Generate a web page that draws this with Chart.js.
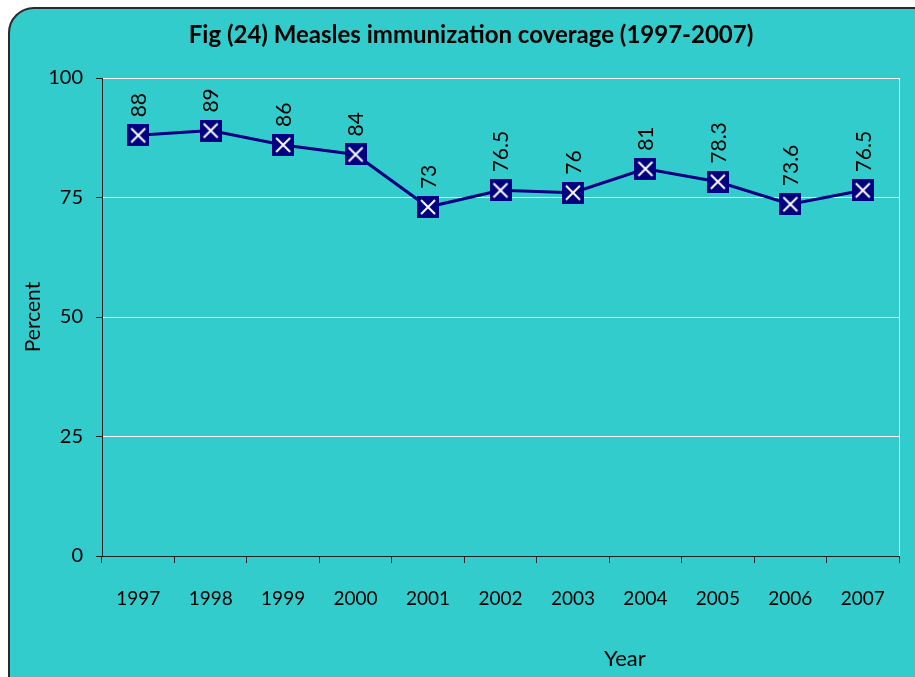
<!DOCTYPE html>
<html>
<head>
<meta charset="utf-8">
<script src="https://cdn.jsdelivr.net/npm/chart.js@4/dist/chart.umd.min.js"></script>
<style>
  html, body { margin: 0; padding: 0; overflow: hidden; background: #ffffff; }
  #moldura {
    position: absolute; left: 8px; top: 7px; width: 960px; height: 720px;
    background: #33cccc; border: 2px solid #2a2a2a; border-radius: 26px;
  }
  #grafico { position: absolute; left: 0; top: 0; }
</style>
</head>
<body>
<div id="moldura"></div>
<canvas id="grafico" width="915" height="677"></canvas>
<script>
const anos = ["1997", "1998", "1999", "2000", "2001", "2002", "2003", "2004", "2005", "2006", "2007"];
const cobertura = [88, 89, 86, 84, 73, 76.5, 76, 81, 78.3, 73.6, 76.5];
const rotulos = ["88", "89", "86", "84", "73", "76.5", "76", "81", "78.3", "73.6", "76.5"];
const marcasY = [0, 25, 50, 75, 100];

const fonte = "Lato";

function criarMarcador() {
    const c = document.createElement("canvas");
    c.width = 22;
    c.height = 22;
    const g = c.getContext("2d");
    g.fillStyle = "#000080";
    g.fillRect(0, 0, 22, 22);
    g.strokeStyle = "#ffffff";
    g.lineWidth = 2;
    g.beginPath();
    g.moveTo(4, 4); g.lineTo(18, 18);
    g.moveTo(18, 4); g.lineTo(4, 18);
    g.stroke();
    return c;
}

const rotulosVerticais = {
    id: "rotulosVerticais",
    afterDatasetsDraw(chart) {
        const ctx = chart.ctx;
        const meta = chart.getDatasetMeta(0);
        ctx.save();
        ctx.fillStyle = "#000000";
        ctx.font = "21px " + fonte;
        ctx.textAlign = "left";
        ctx.textBaseline = "middle";
        meta.data.forEach((ponto, i) => {
            ctx.save();
            ctx.translate(ponto.x + 1, ponto.y - 18);
            ctx.rotate(-Math.PI / 2);
            ctx.fillText(rotulos[i], 0, 0);
            ctx.restore();
        });
        ctx.restore();
    }
};

const bordaDireita = {
    id: "bordaDireita",
    beforeDatasetsDraw(chart) {
        const { ctx, chartArea } = chart;
        ctx.save();
        ctx.strokeStyle = "#ffffff";
        ctx.lineWidth = 1;
        ctx.beginPath();
        ctx.moveTo(chartArea.right + 0.5, chartArea.top);
        ctx.lineTo(chartArea.right + 0.5, chartArea.bottom);
        ctx.stroke();
        ctx.restore();
    }
};

const tituloAno = {
    id: "tituloAno",
    afterDraw(chart) {
        const { ctx, chartArea } = chart;
        ctx.save();
        ctx.fillStyle = "#000000";
        ctx.font = "22px " + fonte;
        ctx.textAlign = "center";
        ctx.textBaseline = "middle";
        ctx.fillText("Year", chartArea.left + (chartArea.right - chartArea.left) * 0.656, 659);
        ctx.restore();
    }
};

new Chart(document.querySelector("#grafico"), {
    type: "line",
    data: {
        labels: anos,
        datasets: [{
            data: cobertura,
            borderColor: "#000080",
            borderWidth: 3,
            pointStyle: criarMarcador(),
            pointRadius: 11,
            tension: 0
        }]
    },
    options: {
        responsive: false,
        animation: false,
        layout: { padding: { left: 43, right: 16, top: 0, bottom: 0 } },
        plugins: {
            legend: { display: false },
            tooltip: { enabled: false },
            title: {
                display: true,
                text: "Fig (24) Measles immunization coverage (1997-2007)",
                color: "#000000",
                font: { family: fonte, size: 24, weight: "bold", lineHeight: 1.2 },
                padding: { top: 20.6, bottom: 28.6 }
            }
        },
        scales: {
            x: {
                offset: true,
                grid: {
                    offset: true,
                    drawOnChartArea: false,
                    tickLength: 7,
                    color: "#222222"
                },
                border: { color: "#222222", width: 1 },
                ticks: { color: "#000000", font: { family: fonte, size: 19 }, padding: 24, maxRotation: 0 },
                afterFit(escala) { escala.height = 121; }
            },
            y: {
                min: 0,
                max: 100,
                afterBuildTicks(escala) { escala.ticks = marcasY.map(v => ({ value: v })); },
                grid: { color: "#ffffff", tickColor: "#222222", tickLength: 6 },
                border: { color: "#222222", width: 1 },
                ticks: { color: "#000000", font: { family: fonte, size: 20 }, padding: 13 },
                title: {
                    display: true,
                    text: "Percent",
                    color: "#000000",
                    font: { family: fonte, size: 21, lineHeight: 1.2 },
                    padding: { top: -22.6, bottom: 0 }
                },
                afterFit(escala) { escala.width = 59; }
            }
        }
    },
    plugins: [rotulosVerticais, bordaDireita, tituloAno]
});
</script>
</body>
</html>
